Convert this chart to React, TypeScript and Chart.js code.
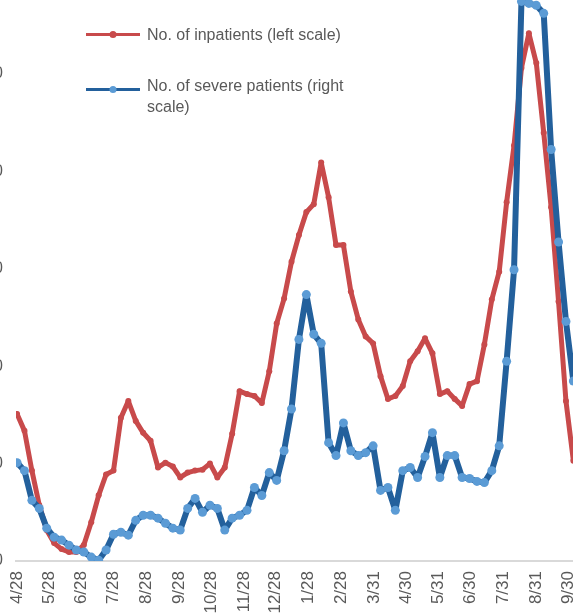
import React, { useEffect, useRef } from "react";
import { Chart, registerables } from "chart.js";

Chart.register(...registerables);

// Weekly values, first week = 4/28
const inpatients = [
  7550, 6680, 4640, 2860, 1580, 920, 610, 460, 460, 820,
  1990, 3370, 4440, 4640, 7350, 8210, 7190, 6580, 6170, 4800,
  5050, 4850, 4290, 4540, 4640, 4690, 5000, 4290, 4800, 6530,
  8720, 8570, 8470, 8110, 9740, 12190, 13470, 15360, 16730, 17910,
  18320, 20460, 18670, 16220, 16220, 13830, 12400, 11530, 11170, 9490,
  8320, 8470, 8980, 10260, 10770, 11430, 10660, 8570, 8720, 8320,
  7960, 9080, 9230, 11120, 13420, 14850, 18420, 21330, 25310, 27090,
  25560, 21990, 18160, 13320, 8210, 5150,
];

const severePatients = [
  404, 371, 249, 216, 135, 98, 86, 65, 45, 37,
  16, 3, 45, 110, 118, 106, 167, 188, 188, 176,
  155, 135, 127, 216, 257, 200, 229, 216, 127, 176,
  188, 208, 302, 269, 363, 331, 453, 624, 910, 1094,
  931, 894, 486, 433, 567, 453, 433, 445, 473, 290,
  302, 208, 371, 384, 343, 429, 527, 343, 433, 433,
  343, 339, 327, 322, 371, 473, 820, 1196, 2298, 2290,
  2282, 2249, 1690, 1310, 984, 739,
];

// Month tick positions (days since 4/28) and their labels
const monthTickDays = [0, 30, 61, 91, 122, 153, 183, 214, 244, 275, 306, 337, 367, 398, 428, 459, 490, 520];
const monthTickLabels = [
  "4/28", "5/28", "6/28", "7/28", "8/28", "9/28", "10/28", "11/28", "12/28",
  "1/28", "2/28", "3/31", "4/30", "5/31", "6/30", "7/31", "8/31", "9/30",
];

const seriesLabels = ["No. of inpatients (left scale)", "No. of severe patients (right scale)"];

const FONT = '"Liberation Sans", Arial, sans-serif';
const TEXT = "#595959";

const insideLegend = {
  id: "insideLegend",
  afterDraw(chart: any) {
    const ctx = chart.ctx;
    const { left, top } = chart.chartArea;
    ctx.save();
    ctx.font = `16px ${FONT}`;
    ctx.textBaseline = "middle";
    ctx.textAlign = "left";
    const rows = [58, 113];
    const textShift = [1, -3];
    chart.data.datasets.forEach((ds: any, i: number) => {
      const y = top + rows[i];
      ctx.strokeStyle = ds.borderColor;
      ctx.lineWidth = 3;
      ctx.beginPath();
      ctx.moveTo(left + 70, y);
      ctx.lineTo(left + 124, y);
      ctx.stroke();
      ctx.fillStyle = ds.pointBackgroundColor;
      ctx.beginPath();
      ctx.arc(left + 97, y, 3.5, 0, Math.PI * 2);
      ctx.fill();
      const words = String(ds.label).split(" ");
      const lines: string[] = [];
      let cur = "";
      for (const w of words) {
        const test = cur ? cur + " " + w : w;
        if (ctx.measureText(test).width > 205 && cur) {
          lines.push(cur);
          cur = w;
        } else cur = test;
      }
      if (cur) lines.push(cur);
      ctx.fillStyle = TEXT;
      lines.forEach((ln, k) => {
        ctx.fillText(ln, left + 131, y + textShift[i] + k * 21);
      });
    });
    ctx.restore();
  },
};

export default function App() {
  const ref = useRef<HTMLCanvasElement>(null);

  useEffect(() => {
    if (!ref.current) return;
    const chart = new Chart(ref.current, {
      type: "line",
      data: {
        datasets: [
          {
            label: seriesLabels[0],
            data: inpatients.map((v, i) => ({ x: i * 7, y: v })),
            borderColor: "#C84A4B",
            backgroundColor: "#C84A4B",
            pointBackgroundColor: "#C84A4B",
            pointBorderWidth: 0,
            pointRadius: 3,
            borderWidth: 5,
            borderJoinStyle: "round",
            borderCapStyle: "round",
            tension: 0,
            yAxisID: "y",
            order: 1,
          },
          {
            label: seriesLabels[1],
            data: severePatients.map((v, i) => ({ x: i * 7, y: v })),
            borderColor: "#23609C",
            backgroundColor: "#23609C",
            pointBackgroundColor: "#5B9BD5",
            pointBorderWidth: 0,
            pointRadius: 4.5,
            borderWidth: 6,
            borderJoinStyle: "round",
            borderCapStyle: "round",
            tension: 0,
            yAxisID: "y1",
            order: 0,
          },
        ],
      },
      options: {
        animation: false,
        responsive: false,
        devicePixelRatio: 1,
        layout: { padding: { top: 13, left: 0, right: 0, bottom: 0 } },
        plugins: { legend: { display: false }, tooltip: { enabled: false } },
        scales: {
          x: {
            type: "linear",
            min: -1,
            max: 560.5,
            afterBuildTicks: (s: any) => {
              s.ticks = monthTickDays.map((v) => ({ value: v }));
            },
            afterFit: (s: any) => {
              s.height = 60;
            },
            ticks: {
              autoSkip: false,
              maxRotation: 90,
              minRotation: 90,
              padding: 10,
              color: TEXT,
              font: { family: FONT, size: 17 },
              callback: (v: any) => {
                const k = monthTickDays.indexOf(Number(v));
                return k >= 0 ? monthTickLabels[k] : "";
              },
            },
            grid: { display: false, drawTicks: false },
            border: { display: true, color: "#D9D9D9", width: 2 },
          },
          y: {
            position: "left",
            min: 0,
            max: 30000,
            ticks: { stepSize: 5000, padding: 13, color: TEXT, font: { family: FONT, size: 16 } },
            afterFit: (s: any) => {
              s.width = 60;
            },
            grid: { display: false, drawTicks: false },
            border: { display: false },
          },
          y1: {
            position: "right",
            min: 0,
            max: 2400,
            ticks: { stepSize: 400, padding: 13, color: TEXT, font: { family: FONT, size: 16 } },
            afterFit: (s: any) => {
              s.width = 50;
            },
            grid: { display: false, drawTicks: false },
            border: { display: false },
          },
        },
      },
      plugins: [insideLegend],
    } as any);
    return () => chart.destroy();
  }, []);

  return (
    <div
      style={{
        position: "fixed",
        left: 0,
        top: 0,
        width: 573,
        height: 613,
        overflow: "hidden",
        background: "#fff",
      }}
    >
      <canvas
        ref={ref}
        width={705}
        height={667}
        style={{ position: "absolute", left: -44, top: -46, width: 705, height: 667 }}
      />
    </div>
  );
}
